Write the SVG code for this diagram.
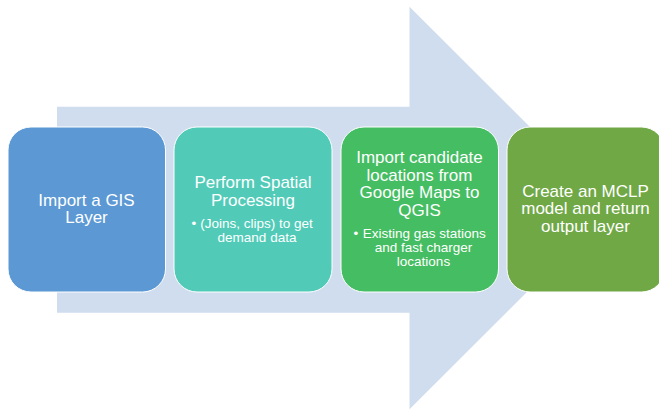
<svg xmlns="http://www.w3.org/2000/svg" width="659" height="411" viewBox="0 0 659 411">
  <style>
    .step { stroke: #ffffff; stroke-width: 1; }
    .title { font-family: "Liberation Sans", Arial, sans-serif; font-size: 17px; fill: #ffffff; text-anchor: middle; }
    .item { font-family: "Liberation Sans", Arial, sans-serif; font-size: 13.5px; fill: #ffffff; }
    .mid { text-anchor: middle; }
  </style>
  <rect width="659" height="411" fill="#ffffff"/>

  <!-- background block arrow behind the process steps -->
  <g id="connectors">
    <polygon points="57,106.7 409.5,106.7 409.5,6.7 611,208 409.5,409.3 409.5,312.7 57,312.7" fill="#CFDDEE"/>
  </g>

  <g id="step1">
    <rect class="step" x="8" y="127" width="157.5" height="165" rx="23" ry="23" fill="#5B98D4"/>
    <text class="title"><tspan x="86.5" y="205.5">Import a GIS</tspan><tspan x="86.5" y="223.3">Layer</tspan></text>
  </g>

  <g id="step2">
    <rect class="step" x="174" y="127" width="158" height="165" rx="23" ry="23" fill="#51CBB8"/>
    <text class="title"><tspan x="253" y="188.3">Perform Spatial</tspan><tspan x="253" y="206">Processing</tspan></text>
    <text class="item"><tspan x="191.5" y="228">•</tspan><tspan x="200.3" y="228">(Joins, clips) to get</tspan><tspan class="mid" x="257" y="241.5">demand data</tspan></text>
  </g>

  <g id="step3">
    <rect class="step" x="341" y="127" width="157.5" height="165" rx="23" ry="23" fill="#45BD62"/>
    <text class="title"><tspan x="419.5" y="163.3">Import candidate</tspan><tspan x="419.5" y="180.7">locations from</tspan><tspan x="419.5" y="198.3">Google Maps to</tspan><tspan x="419.5" y="215.5">QGIS</tspan></text>
    <text class="item"><tspan x="353.5" y="238">•</tspan><tspan x="362.7" y="238">Existing gas stations</tspan><tspan class="mid" x="423.5" y="252">and fast charger</tspan><tspan class="mid" x="423.5" y="266">locations</tspan></text>
  </g>

  <g id="step4">
    <rect class="step" x="507" y="127" width="157.5" height="165" rx="23" ry="23" fill="#70A846"/>
    <text class="title"><tspan x="585.5" y="196.5">Create an MCLP</tspan><tspan x="585.5" y="214">model and return</tspan><tspan x="585.5" y="231.5">output layer</tspan></text>
  </g>
</svg>
